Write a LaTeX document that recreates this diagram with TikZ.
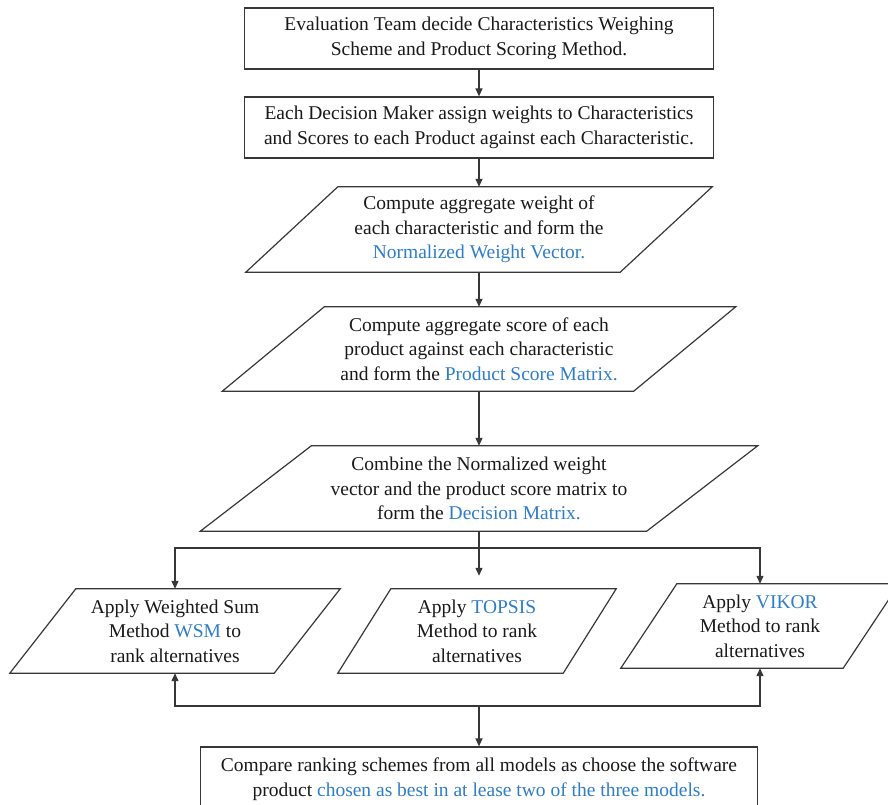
\documentclass[tikz,border=0pt]{standalone}
\usepackage{fontspec}
\setmainfont{Liberation Serif}
\usetikzlibrary{arrows.meta}
\definecolor{kwblue}{RGB}{46,125,200}
\definecolor{edge}{RGB}{55,55,55}
\newcommand{\kw}[1]{\textcolor{kwblue}{#1}}
\newcommand{\slantbox}[2]{%
  \draw[edge,line width=1.2pt] ([xshift=#2]#1.north west) -- ([xshift=#2]#1.north east)
    -- ([xshift=-#2]#1.south east) -- ([xshift=-#2]#1.south west) -- cycle;}
\tikzset{
  txt/.style={rectangle,align=center,inner sep=0pt,
    text=black!90,font=\fontsize{19.5}{24.5}\selectfont},
  box/.style={txt,draw=edge,line width=1.2pt},
  arr/.style={draw=edge,line width=1.2pt,-{Triangle[length=8pt,width=7pt]}}
}

\begin{document}
\begin{tikzpicture}[x=1pt,y=-1pt]
  \useasboundingbox (0,0) rectangle (888,805);
  \draw (479,38.5) node[box,minimum width=469pt,minimum height=61pt] (E)
    {Evaluation Team decide Characteristics Weighing\\Scheme and Product Scoring Method.};
  \draw (479,127.5) node[box,minimum width=469pt,minimum height=61pt] (D)
    {Each Decision Maker assign weights to Characteristics\\and Scores to each Product against each Characteristic.};
  \draw (479,229.5) node[txt,minimum width=374pt,minimum height=85pt] (W)
    {Compute aggregate weight of\\each characteristic and form the\\\kw{Normalized Weight Vector.}};
  \draw (479,349) node[txt,minimum width=411pt,minimum height=84pt] (S)
    {Compute aggregate score of each\\product against each characteristic\\and form the \kw{Product Score Matrix.}};
  \draw (479,488.5) node[txt,minimum width=446pt,minimum height=85pt] (M)
    {Combine the Normalized weight\\vector and the product score matrix to\\form the \kw{Decision Matrix.}};
  \draw (175,631) node[txt,minimum width=264pt,minimum height=84pt] (A)
    {Apply Weighted Sum\\Method \kw{WSM} to\\rank alternatives};
  \draw (477,631) node[txt,minimum width=225pt,minimum height=84pt] (T)
    {Apply \kw{TOPSIS}\\Method to rank\\alternatives};
  \draw (760,626) node[txt,minimum width=222pt,minimum height=84pt] (V)
    {Apply \kw{VIKOR}\\Method to rank\\alternatives};
  \draw (479,779) node[box,minimum width=557pt,minimum height=64pt] (C)
    {Compare ranking schemes from all models as choose the software\\product \kw{chosen as best in at lease two of the three models.}};
  \slantbox{W}{46pt}
  \slantbox{S}{51pt}
  \slantbox{M}{55.5pt}
  \slantbox{A}{33pt}
  \slantbox{T}{26.5pt}
  \slantbox{V}{28pt}
  \coordinate (J) at (479,548);
  \coordinate (K) at (479,706);
  \draw[arr] (E) -- (D);
  \draw[arr] (D) -- (W);
  \draw[arr] (W) -- (S);
  \draw[arr] (S) -- (M);
  \draw[edge,line width=1.2pt] (M.south) -- (J);
  \draw[arr] (J) -| (A.north);
  \draw[arr,shorten >=13pt] (J) -- (T.north -| J);
  \draw[arr] (J) -| (V.north);
  \draw[arr] (K) -| (A.south);
  \draw[arr] (K) -| (V.south);
  \draw[arr] (K) -- (C);
\end{tikzpicture}
\end{document}
